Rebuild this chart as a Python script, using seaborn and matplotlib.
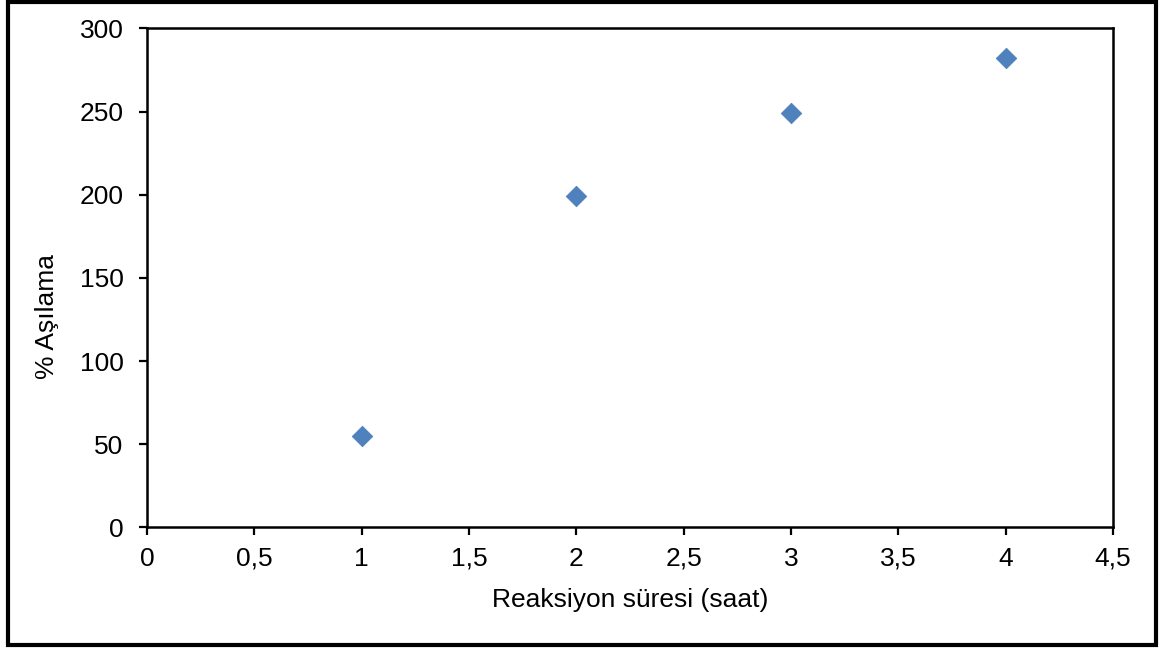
import matplotlib
matplotlib.use("Agg")
import matplotlib.pyplot as plt
import seaborn as sns
import pandas as pd
from matplotlib.patches import Rectangle
from matplotlib.ticker import FuncFormatter

# Data
reaction_time = [1, 2, 3, 4]
grafting_pct = [55, 199, 249, 282]
x_ticks = [0, 0.5, 1, 1.5, 2, 2.5, 3, 3.5, 4, 4.5]
y_ticks = [0, 50, 100, 150, 200, 250, 300]

sns.set_theme(style="white")
plt.rcParams['font.family'] = ['Liberation Sans', 'DejaVu Sans']

df = pd.DataFrame({"t": reaction_time, "g": grafting_pct})

fig = plt.figure(figsize=(11.63, 6.53), dpi=100)
ax = fig.add_axes([0.1264, 0.1922, 0.957 - 0.1264, 0.9564 - 0.1922])

sns.scatterplot(data=df, x="t", y="g", marker="D", s=110, color="#4F81BD",
                edgecolor="#4A7EBB", linewidth=0.5, ax=ax, legend=False)

ax.set_xlim(0, 4.5)
ax.set_ylim(0, 300)
ax.set_xticks(x_ticks)
ax.set_yticks(y_ticks)
ax.xaxis.set_major_formatter(FuncFormatter(lambda v, p: ("%g" % v).replace(".", ",")))
ax.tick_params(axis="both", which="major", direction="out", length=6, width=1.6,
               colors="black", labelsize=19, bottom=True, left=True)
ax.tick_params(axis="x", pad=8)
ax.tick_params(axis="y", pad=11)
for sp in ax.spines.values():
    sp.set_visible(True)
    sp.set_color("black")
    sp.set_linewidth(1.8)

ax.set_xlabel("Reaksiyon süresi (saat)", fontsize=19, color="black", labelpad=12)
ax.set_ylabel("% Aşılama", fontsize=19, color="black")
ax.yaxis.set_label_coords(-0.091, 0.422)
ax.grid(False)

# Outer frame
fig.patches.append(Rectangle((8 / 1163, 1 - 645 / 653), (1156 - 8) / 1163, (645 - 1.5) / 653,
                             transform=fig.transFigure, fill=False, edgecolor="black",
                             linewidth=3, zorder=10))

fig.savefig("out.png", dpi=100)
